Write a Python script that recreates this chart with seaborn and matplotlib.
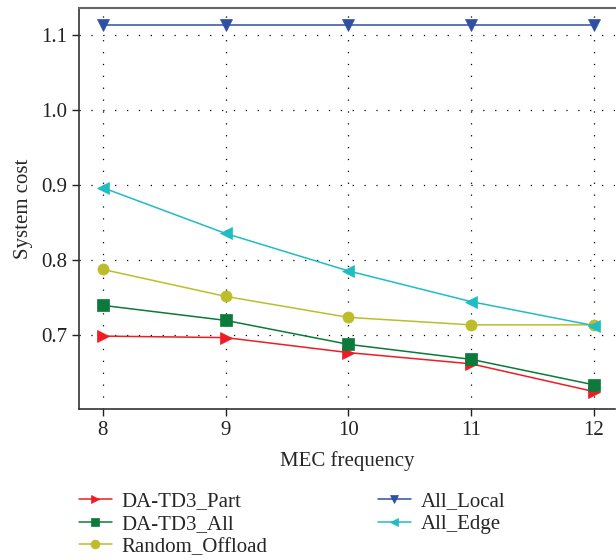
import matplotlib
matplotlib.use("Agg")
import matplotlib.pyplot as plt
import seaborn as sns
import pandas as pd

freq = [8, 9, 10, 11, 12]
da_td3_part = [0.698, 0.696, 0.676, 0.661, 0.624]
da_td3_all = [0.739, 0.719, 0.687, 0.667, 0.633]
random_offload = [0.787, 0.751, 0.723, 0.713, 0.713]
all_local = [1.113, 1.113, 1.113, 1.113, 1.113]
all_edge = [0.896, 0.835, 0.785, 0.744, 0.712]

series = [
    ("DA-TD3_Part", da_td3_part, "#ee1c24", ">"),
    ("DA-TD3_All", da_td3_all, "#0b7a3a", "s"),
    ("Random_Offload", random_offload, "#bdbd2a", "o"),
    ("All_Local", all_local, "#2e4fa3", "v"),
    ("All_Edge", all_edge, "#1fbdc2", "<"),
]

sns.set_style("ticks")
plt.rcParams["font.family"] = ["Liberation Serif", "DejaVu Serif"]

fig = plt.figure(figsize=(6.16, 5.6), dpi=100)
ax = fig.add_axes([0.128, 0.27, 0.87, 0.716])

for name, vals, color, mk in series:
    df = pd.DataFrame({"x": freq, "y": vals})
    sns.lineplot(data=df, x="x", y="y", ax=ax, color=color, marker=mk,
                 markersize=8, markeredgewidth=0.5, markeredgecolor=color,
                 linewidth=1.1, label=name)

ax.set_xlim(7.805, 12.17)
ax.set_ylim(0.601, 1.136)
ax.set_xticks(freq)
ax.set_yticks([0.7, 0.8, 0.9, 1.0, 1.1])
ax.set_yticklabels(["0.7", "0.8", "0.9", "1.0", "1.1"])
ax.grid(True, linestyle=(0, (1, 8.5)), color="black", linewidth=0.9)
ax.tick_params(labelsize=15, direction="out", length=5, width=1, colors="#222222")
ax.set_xlabel("MEC frequency", fontsize=15, labelpad=8)
ax.set_ylabel("System cost", fontsize=15, labelpad=6)
for s in ["left", "bottom"]:
    ax.spines[s].set_color("#333333")
    ax.spines[s].set_linewidth(1.2)
ax.spines["top"].set_color("#666666")
ax.spines["top"].set_linewidth(1.5)
ax.spines["right"].set_visible(False)

leg = ax.legend(loc="upper center", bbox_to_anchor=(0.3975, -0.16), ncol=2,
                frameon=False, fontsize=15, handlelength=1.6, markerscale=0.8,
                columnspacing=5.3, labelspacing=0.15, handletextpad=0.45)

fig.savefig("out.png", dpi=100)
